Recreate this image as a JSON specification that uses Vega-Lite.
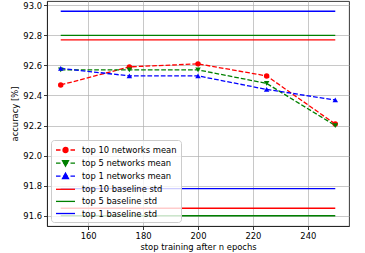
{
  "$schema": "https://vega.github.io/schema/vega-lite/v6.json",
  "width": 302,
  "height": 225,
  "autosize": {"type": "none"},
  "padding": {"left": 47, "top": 1, "right": 16, "bottom": 27},
  "background": "white",
  "config": {
    "font": "DejaVu Sans",
    "view": {"stroke": "#222", "strokeWidth": 0.9},
    "axis": {
      "labelFont": "DejaVu Sans", "titleFont": "DejaVu Sans",
      "labelFontSize": 8.4, "titleFontSize": 8.4, "titleFontWeight": "normal",
      "labelColor": "#000", "titleColor": "#000",
      "domainColor": "#222", "tickColor": "#222", "tickSize": 3.5, "domainWidth": 0.9, "tickWidth": 0.9,
      "gridColor": "#b0b0b0", "gridWidth": 0.7, "labelPadding": 2
    },
    "legend": {
      "orient": "bottom-left", "offset": 4, "padding": 4,
      "fillColor": "rgba(255,255,255,0.8)", "strokeColor": "#cccccc", "cornerRadius": 3,
      "labelFont": "DejaVu Sans", "labelFontSize": 8.4, "labelColor": "#000",
      "symbolSize": 100, "symbolStrokeWidth": 1.3, "rowPadding": 1.1, "labelOffset": 15
    }
  },
  "datasets": {
    "means": [
      {"series": "top 10 networks mean", "epoch": 150, "acc": 92.47},
      {"series": "top 10 networks mean", "epoch": 175, "acc": 92.59},
      {"series": "top 10 networks mean", "epoch": 200, "acc": 92.61},
      {"series": "top 10 networks mean", "epoch": 225, "acc": 92.53},
      {"series": "top 10 networks mean", "epoch": 250, "acc": 92.21},
      {"series": "top 5 networks mean", "epoch": 150, "acc": 92.57},
      {"series": "top 5 networks mean", "epoch": 175, "acc": 92.57},
      {"series": "top 5 networks mean", "epoch": 200, "acc": 92.57},
      {"series": "top 5 networks mean", "epoch": 225, "acc": 92.48},
      {"series": "top 5 networks mean", "epoch": 250, "acc": 92.20},
      {"series": "top 1 networks mean", "epoch": 150, "acc": 92.58},
      {"series": "top 1 networks mean", "epoch": 175, "acc": 92.53},
      {"series": "top 1 networks mean", "epoch": 200, "acc": 92.53},
      {"series": "top 1 networks mean", "epoch": 225, "acc": 92.44},
      {"series": "top 1 networks mean", "epoch": 250, "acc": 92.37}
    ],
    "baselines": [
      {"series": "top 10 baseline std", "epoch": 150, "epoch_end": 250, "acc": 92.77},
      {"series": "top 10 baseline std", "epoch": 150, "epoch_end": 250, "acc": 91.65},
      {"series": "top 5 baseline std", "epoch": 150, "epoch_end": 250, "acc": 92.80},
      {"series": "top 5 baseline std", "epoch": 150, "epoch_end": 250, "acc": 91.60},
      {"series": "top 1 baseline std", "epoch": 150, "epoch_end": 250, "acc": 92.96},
      {"series": "top 1 baseline std", "epoch": 150, "epoch_end": 250, "acc": 91.78}
    ],
    "series": [
      {"series": "top 10 networks mean"},
      {"series": "top 5 networks mean"},
      {"series": "top 1 networks mean"},
      {"series": "top 10 baseline std"},
      {"series": "top 5 baseline std"},
      {"series": "top 1 baseline std"}
    ]
  },
  "encoding": {
    "x": {
      "field": "epoch", "type": "quantitative",
      "scale": {"domain": [145, 255], "nice": false, "zero": false},
      "axis": {"values": [160, 180, 200, 220, 240], "title": "stop training after n epochs", "titlePadding": 3}
    },
    "y": {
      "field": "acc", "type": "quantitative",
      "scale": {"domain": [91.532, 93.028], "nice": false, "zero": false},
      "axis": {"values": [91.6, 91.8, 92.0, 92.2, 92.4, 92.6, 92.8, 93.0], "format": ".1f", "title": "accuracy [%]", "titlePadding": 3}
    }
  },
  "layer": [
    {
      "data": {"name": "means"},
      "mark": {"type": "line", "strokeDash": [4.7, 2], "strokeWidth": 1.3},
      "encoding": {
        "color": {
          "field": "series", "type": "nominal",
          "scale": {
            "domain": ["top 10 networks mean", "top 5 networks mean", "top 1 networks mean", "top 10 baseline std", "top 5 baseline std", "top 1 baseline std"],
            "range": ["#ff0000", "#008000", "#0000ff", "#ff0000", "#008000", "#0000ff"]
          },
          "legend": null
        }
      }
    },
    {
      "data": {"name": "means"},
      "mark": {"type": "point", "filled": true, "opacity": 1, "size": 30},
      "encoding": {
        "color": {"field": "series", "type": "nominal", "legend": null},
        "shape": {
          "field": "series", "type": "nominal",
          "scale": {"domain": ["top 10 networks mean", "top 5 networks mean", "top 1 networks mean"], "range": ["circle", "triangle-down", "triangle-up"]},
          "legend": null
        }
      }
    },
    {
      "data": {"name": "baselines"},
      "mark": {"type": "rule", "strokeWidth": 1.3},
      "encoding": {
        "x2": {"field": "epoch_end"},
        "color": {"field": "series", "type": "nominal", "legend": null}
      }
    },
    {
      "data": {"name": "series"},
      "mark": {"type": "point", "filled": true, "opacity": 1, "invalid": "filter"},
      "encoding": {
        "fill": {
          "field": "series", "type": "nominal",
          "scale": {
            "domain": ["top 10 networks mean", "top 5 networks mean", "top 1 networks mean", "top 10 baseline std", "top 5 baseline std", "top 1 baseline std"],
            "range": ["#ff0000", "#008000", "#0000ff", "#ff0000", "#008000", "#0000ff"]
          },
          "legend": {"title": null}
        },
        "stroke": {
          "field": "series", "type": "nominal",
          "scale": {
            "domain": ["top 10 networks mean", "top 5 networks mean", "top 1 networks mean", "top 10 baseline std", "top 5 baseline std", "top 1 baseline std"],
            "range": ["#ff0000", "#008000", "#0000ff", "#ff0000", "#008000", "#0000ff"]
          },
          "legend": {"title": null}
        },
        "shape": {
          "field": "series", "type": "nominal",
          "scale": {
            "domain": ["top 10 networks mean", "top 5 networks mean", "top 1 networks mean", "top 10 baseline std", "top 5 baseline std", "top 1 baseline std"],
            "range": [
              "M-1,0H-0.1M0.4,0H1.4M1.9,0H2.8M0.4,0A0.5,0.5,0,1,0,1.4,0A0.5,0.5,0,1,0,0.4,0Z",
              "M-1,0H-0.1M0.4,0H1.4M1.9,0H2.8M0.3,-0.5L1.5,-0.5L0.9,0.6Z",
              "M-1,0H-0.1M0.4,0H1.4M1.9,0H2.8M0.3,0.5L1.5,0.5L0.9,-0.6Z",
              "M-1,0H2.8",
              "M-1,0H2.8",
              "M-1,0H2.8"
            ]
          },
          "legend": {"title": null}
        }
      }
    }
  ],
  "resolve": {"scale": {"shape": "independent", "fill": "independent", "stroke": "independent"}}
}
